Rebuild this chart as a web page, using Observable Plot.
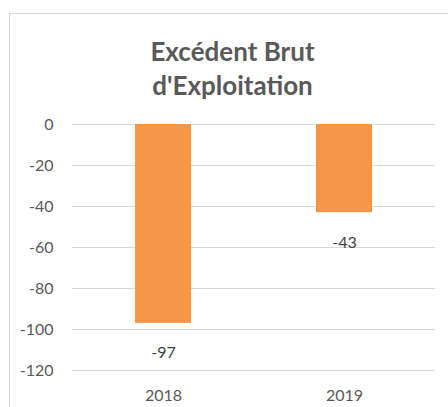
<!DOCTYPE html>
<html>
<head>
<meta charset="utf-8">
<script src="https://cdn.jsdelivr.net/npm/d3@7"></script>
<script src="https://cdn.jsdelivr.net/npm/@observablehq/plot@0.6"></script>
<style>
  html, body { margin: 0; padding: 0; background: #fff; }
  #wrap { position: relative; width: 448px; height: 407px; overflow: hidden; font-family: Lato, sans-serif; }
  #frame { position: absolute; left: 9px; top: 13px; width: 480px; height: 440px; border: 1px solid #d9d9d9; box-sizing: border-box; }
  #title { position: absolute; left: 0; top: 34px; width: 465px; text-align: center; font-family: Lato, sans-serif; font-weight: bold; font-size: 26px; line-height: 34px; color: #595959; }
  #chart { position: absolute; left: 0; top: 0; }
</style>
</head>
<body>
<div id="wrap">
  <div id="frame"></div>
  <div id="title">Excédent Brut<br>d'Exploitation</div>
  <div id="chart"></div>
</div>
<script>
const years = ["2018", "2019"];
const values = [-97, -43];
const yTicks = [0, -20, -40, -60, -80, -100, -120];

const data = years.map((y, i) => ({year: y, value: values[i]}));

const chart = Plot.plot({
  width: 448,
  height: 407,
  marginTop: 124,
  marginBottom: 37,
  marginLeft: 72,
  marginRight: 13,
  style: {fontFamily: "Lato, sans-serif", fontSize: "16px", color: "#595959", background: "transparent"},
  x: {domain: years, paddingInner: 0.69, paddingOuter: 0.345, label: null},
  y: {domain: [-120, 0], label: null},
  marks: [
    Plot.ruleY(yTicks, {stroke: "#d9d9d9", strokeWidth: 1}),
    Plot.barY(data, {x: "year", y: "value", fill: "#F79646"}),
    Plot.text(data, {x: "year", y: "value", text: d => String(d.value), dy: 30, fill: "#404040", fontSize: 16}),
    Plot.axisY({ticks: yTicks, tickSize: 0, tickPadding: 19, tickFormat: d => String(d), label: null, fill: "#595959"}),
    Plot.axisX({tickSize: 0, tickPadding: 19, label: null, fill: "#595959"})
  ]
});
document.getElementById("chart").appendChild(chart);
</script>
</body>
</html>
